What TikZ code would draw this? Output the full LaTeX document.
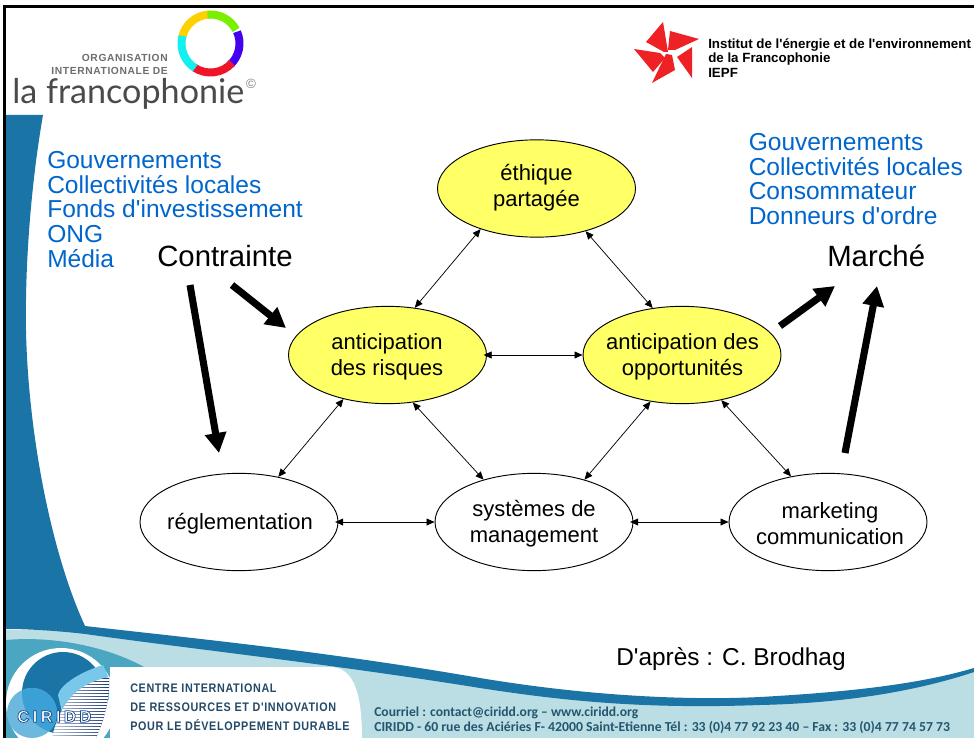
\documentclass[tikz,border=0pt]{standalone}
\usepackage{fontspec}
\usepackage{graphicx}
\usetikzlibrary{arrows.meta,shapes.geometric}
\setmainfont[Ligatures=TeXOff]{Liberation Sans}
\newfontfamily\carl{Carlito}
\newfontfamily\carlsp[LetterSpace=6]{Liberation Sans}
\newfontfamily\ciriddf[LetterSpace=20]{Liberation Sans}
\newfontfamily\lat{Lato}
\definecolor{darkband}{HTML}{1B74A6}
\definecolor{palebg}{HTML}{BADEE4}
\definecolor{midblue}{HTML}{4BA6C2}
\definecolor{lightb}{HTML}{79C8EC}
\definecolor{circb}{HTML}{6DB8DE}
\definecolor{overlapb}{HTML}{3AA0D5}
\definecolor{bluetxt}{HTML}{0066CC}
\definecolor{ellyel}{HTML}{FFFF66}
\definecolor{logogray}{HTML}{4A4A4A}
\definecolor{footb}{HTML}{24566F}
\definecolor{centb}{HTML}{234A68}
\definecolor{iepfred}{HTML}{EE2124}
\definecolor{stripel}{HTML}{C8D0E0}
\definecolor{striper}{HTML}{14306A}
\tikzset{
  ell/.style={ellipse,draw=black,line width=0.7pt,inner sep=0pt,minimum width=148.5pt,minimum height=73pt},
  yel/.style={ell,fill=ellyel},
  wht/.style={ell,fill=white},
  ellabel/.style={align=center,font=\fontsize{16.5}{19.5}\selectfont,inner sep=0pt},
  bluelist/.style={anchor=north west,align=left,inner sep=0pt,text=bluetxt,font=\fontsize{18.4}{18.5}\selectfont},
  bigword/.style={inner sep=0pt,font=\fontsize{22}{24}\selectfont},
  thinarrow/.style={line width=0.55pt,{Triangle[length=6pt,width=5.2pt]}-{Triangle[length=6pt,width=5.2pt]}},
  fatarrow/.style={line width=5.3pt,-{Triangle[length=15pt,width=15.5pt]}},
  ringseg/.style={line width=6pt},
  petal/.style={fill=iepfred,draw=none},
  tinytxt/.style={inner sep=0pt,anchor=west},
}
\begin{document}
\begin{tikzpicture}[x=0.75pt,y=-0.75pt]
\useasboundingbox (0,0) rectangle (974,738);
\fill[white] (0,0) rectangle (974,738);
% pale footer
\fill[palebg] (6,630) -- (85,630) .. controls (200,645) and (330,660) .. (480,684) .. controls (600,702) and (700,702) .. (760,700) .. controls (850,696) and (920,685) .. (974,668) -- (974,738) -- (6,738) -- cycle;
% medium blue
\fill[midblue] (6,640) .. controls (50,636) and (105,645) .. (146,668) -- (146,738) -- (6,738) -- cycle;
% sidebar and wave
\fill[darkband] (6,115) -- (43,115) .. controls (30,190) and (25,270) .. (26,330) .. controls (28,430) and (50,550) .. (85,626)
 .. controls (200,639) and (330,652) .. (480,678) .. controls (600,698) and (700,700) .. (760,697) .. controls (850,692) and (920,684) .. (974,668)
 -- (974,672) .. controls (920,690) and (850,703) .. (760,705) .. controls (650,709) and (570,702) .. (480,688) .. controls (330,664) and (200,650) .. (85,634)
 .. controls (60,631) and (30,629) .. (6,629) -- cycle;
% white panel
\fill[white] (110,667) -- (330,667) .. controls (350,667) and (362,685) .. (362,738) -- (110,738) -- cycle;
% CIRIDD badge
\fill[white] (61,703) circle[radius=55];
\fill[darkband] (63,693) circle[radius=41];
\fill[lightb] (58,695) .. controls (60,685) and (80,672) .. (103,665) -- (109,678) -- (109,700) -- (62,712) -- cycle;
\fill[circb] (32,713) circle[radius=25];
\begin{scope}
  \clip (63,693) circle[radius=41];
  \fill[overlapb] (32,713) circle[radius=25];
\end{scope}
\begin{scope}
  \clip (109,677) .. controls (78,683) and (60,702) .. (52,738) -- (96,738) .. controls (104,720) and (110,700) .. (109,677) -- cycle;
  \shade[left color=stripel,right color=striper] (50,670) rectangle (112,738);
  \foreach \yy in {677,680,...,738}{\draw[white,line width=0.8pt] (50,\yy) -- (112,\yy);}
\end{scope}
\node[tinytxt,text=white,font=\ciriddf\bfseries\fontsize{12.5}{13}\selectfont] (cirlogo) at (17,716.5) {\special{pdf:code q 2 Tr 0.55 w 0.1 0.3 0.55 RG}CIRIDD\special{pdf:code 0 Tr Q}};
% frame
\draw[black,line width=2.6pt] (4.5,738) -- (4.5,6.5) -- (974,6.5);
% francophonie ring
\coordinate (ringc) at (210.5,43.5);
\draw[ringseg,draw={rgb,255:red,255;green,208;blue,0}] (ringc) ++(-168:29) arc[start angle=-168,end angle=-92,radius=29];
\draw[ringseg,draw={rgb,255:red,120;green,240;blue,0}] (ringc) ++(-96:29) arc[start angle=-96,end angle=-28,radius=29];
\draw[ringseg,draw={rgb,255:red,70;green,0;blue,240}] (ringc) ++(-24:29) arc[start angle=-24,end angle=48,radius=29];
\draw[ringseg,draw={rgb,255:red,240;green,20;blue,40}] (ringc) ++(42:29) arc[start angle=42,end angle=125,radius=29];
\draw[ringseg,draw={rgb,255:red,20;green,240;blue,240}] (ringc) ++(122:29) arc[start angle=122,end angle=195,radius=29];
\node[inner sep=0pt,anchor=east,text=logogray!80,font=\carlsp\bfseries\fontsize{7.7}{8}\selectfont] (oif1) at (168,58) {ORGANISATION};
\node[inner sep=0pt,anchor=east,text=logogray!80,font=\carlsp\bfseries\fontsize{7.7}{8}\selectfont] (oif2) at (168,70.5) {INTERNATIONALE DE};
\node[tinytxt,text=logogray,font=\lat\fontsize{25.6}{26}\selectfont] (oif3) at (12,94) {la francophonie};
\node[inner sep=0pt,text=logogray!70,font=\fontsize{10}{10}\selectfont] (oif4) at (251,84) {©};
% IEPF star
\fill[petal] (663,22) -- (646,42) -- (664,52) -- (668,52) -- cycle;
\fill[petal] (670,31) -- (699,39) -- (675,50) -- (668,50) -- cycle;
\fill[petal] (692,47) -- (692,78) -- (677,57) -- cycle;
\fill[petal] (652,83) -- (675,70) -- (672,55) -- (666,54) -- cycle;
\fill[petal] (634,49) -- (660,53) -- (665,58) -- (653,72) -- cycle;
\node[tinytxt,font=\bfseries\fontsize{10}{10}\selectfont] (iepf1) at (708,45) {Institut de l'énergie et de l'environnement};
\node[tinytxt,font=\bfseries\fontsize{10}{10}\selectfont] (iepf2) at (708,59) {de la Francophonie};
\node[tinytxt,font=\bfseries\fontsize{10}{10}\selectfont] (iepf3) at (708,73) {IEPF};
% ellipses
\node[yel] (eth) at (536.5,188.5) {};
\node[yel] (ris) at (387.5,355) {};
\node[yel] (opp) at (682,355) {};
\node[wht] (reg) at (239,522) {};
\node[wht] (sys) at (534,522) {};
\node[wht] (mkt) at (828,522) {};
\node[ellabel] (ethl) at (536.5,187.5) {éthique\\partagée};
\node[ellabel] (risl) at (387,357) {anticipation\\des risques};
\node[ellabel] (oppl) at (682.5,357) {anticipation des\\opportunités};
\node[ellabel] (regl) at (240,524) {réglementation};
\node[ellabel] (sysl) at (534,524) {systèmes de\\management};
\node[ellabel] (mktl) at (830,524) {marketing\\communication};
% thin connectors
\draw[thinarrow] (eth.216.6) -- (ris.60.7);
\draw[thinarrow] (eth.-41.3) -- (opp.122.9);
\draw[thinarrow] (ris.225.9) -- (reg.49.5);
\draw[thinarrow] (ris.-62) -- (sys.140.2);
\draw[thinarrow] (opp.236.3) -- (sys.40.9);
\draw[thinarrow] (opp.-49) -- (mkt.129.5);
\draw[thinarrow,shorten <=-2.5pt] (ris.east) -- (opp.west);
\draw[thinarrow,shorten <=-2.5pt] (reg.east) -- (sys.west);
\draw[thinarrow,shorten <=-2.5pt] (sys.east) -- (mkt.west);
% text
\node[bluelist] (gl) at (47,151) {Gouvernements\\Collectivités locales\\Fonds d'investissement\\ONG\\Média};
\node[bluelist] (gr) at (748.5,133) {Gouvernements\\Collectivités locales\\Consommateur\\Donneurs d'ordre};
\node[bigword,anchor=west] (con) at (157,256) {Contrainte};
\node[bigword,anchor=west] (mar) at (827,256) {Marché};
\node[tinytxt,font=\fontsize{18.3}{20}\selectfont] (dap) at (616,659) {D'après : C. Brodhag};
% fat connectors
\coordinate (c1) at (190,285);
\coordinate (c2) at (232,285);
\coordinate (r1) at (219,453);
\coordinate (r2) at (286,328);
\coordinate (m1) at (780,326);
\coordinate (m2) at (845,453);
\coordinate (t1) at (835,286);
\coordinate (t2) at (877,286);
\draw[fatarrow] (c1) -- (r1);
\draw[fatarrow] (c2) -- (r2);
\draw[fatarrow] (m1) -- (t1);
\draw[fatarrow] (m2) -- (t2);
% footer text
\node[tinytxt,text=centb,font=\carlsp\bfseries\fontsize{9.3}{10}\selectfont] (cc1) at (130,688) {\scalebox{0.87}[1]{CENTRE INTERNATIONAL}};
\node[tinytxt,text=centb,font=\carlsp\bfseries\fontsize{9.3}{10}\selectfont] (cc2) at (130,707) {\scalebox{0.87}[1]{DE RESSOURCES ET D'INNOVATION}};
\node[tinytxt,text=centb,font=\carlsp\bfseries\fontsize{9.3}{10}\selectfont] (cc3) at (130,725) {\scalebox{0.87}[1]{POUR LE DÉVELOPPEMENT DURABLE}};
\node[tinytxt,text=footb,font=\carl\bfseries\fontsize{10.2}{11}\selectfont] (ft1) at (374,713) {Courriel : contact@ciridd.org – www.ciridd.org};
\node[tinytxt,text=footb,font=\carl\bfseries\fontsize{10.3}{11}\selectfont] (ft2) at (374,727) {CIRIDD -  60 rue des Aciéries F- 42000 Saint-Etienne Tél : 33 (0)4 77 92 23 40 – Fax :  33 (0)4  77 74 57 73};
\end{tikzpicture}
\end{document}
